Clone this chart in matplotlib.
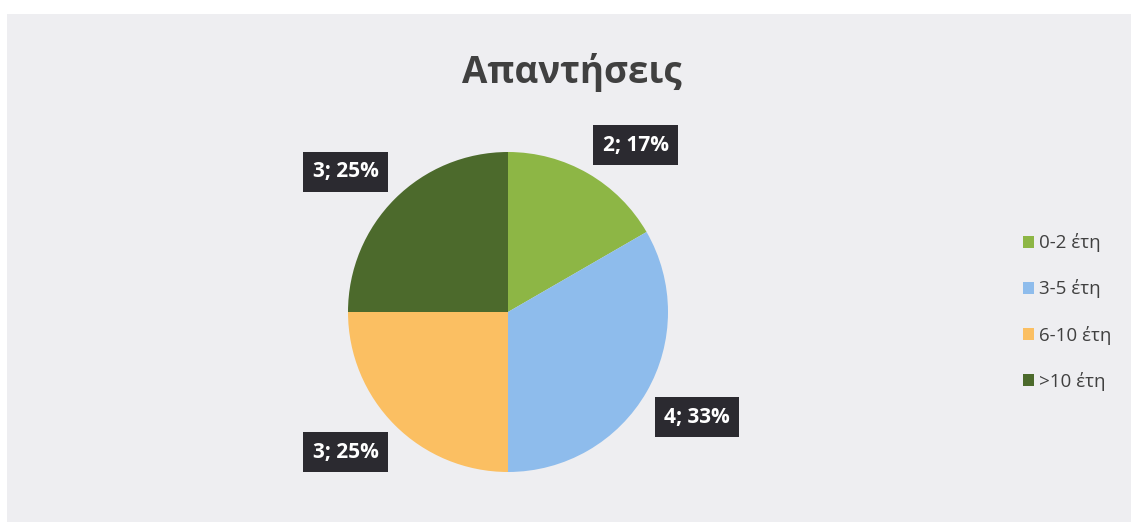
import numpy as np
import matplotlib.pyplot as plt
from matplotlib.patches import Rectangle

plt.rcParams['font.family'] = ['Open Sans', 'DejaVu Sans']

# data
categories = ['0-2 έτη', '3-5 έτη', '6-10 έτη', '>10 έτη']
values = [2, 4, 3, 3]
colors = ['#8db645', '#8ebcec', '#fbbf62', '#4c6a2c']
title = 'Απαντήσεις'

fig = plt.figure(figsize=(11.31, 5.22), dpi=100)
fig.patch.set_facecolor('white')
# scanned chart area background
fig.patches.append(Rectangle((0.006, 0), 0.994, (522 - 14) / 522,
                             transform=fig.transFigure, facecolor='#eeeef1',
                             edgecolor='none', zorder=-10))

ax = fig.add_axes([348 / 1131, 50 / 522, 320 / 1131, 320 / 522])
ax.set_facecolor('none')
wedges, _ = ax.pie(values, colors=colors, startangle=90, counterclock=False,
                   wedgeprops=dict(edgecolor='none'), radius=1.0)
ax.set_xlim(-1, 1)
ax.set_ylim(-1, 1)
ax.set_aspect('equal')
ax.axis('off')

# data labels outside end, like the original
total = sum(values)
fs = 15
pad = 0.45
for w, v in zip(wedges, values):
    mid = np.deg2rad((w.theta1 + w.theta2) / 2)
    x, y = 1.05 * np.cos(mid), 1.05 * np.sin(mid)
    ha = 'left' if np.cos(mid) > 0 else 'right'
    va = 'bottom' if np.sin(mid) > 0 else 'top'
    off = pad * fs + 1
    dx = off if ha == 'left' else -off
    dy = off if va == 'bottom' else -off
    ax.annotate(f'{v}; {round(v / total * 100)}%', xy=(x, y),
                xytext=(dx, dy), textcoords='offset points',
                ha=ha, va=va, fontsize=fs, fontweight='bold', color='white',
                bbox=dict(boxstyle=f'square,pad={pad}', facecolor='#2b2a30',
                          edgecolor='none'),
                annotation_clip=False)

fig.text(572 / 1131, 1 - 72 / 522, title, ha='center', va='center',
         fontsize=26.5, fontweight='bold', color='#404040')

fig.legend(wedges, categories, loc='center left',
           bbox_to_anchor=(1006 / 1131, 1 - 312 / 522), frameon=False,
           fontsize=13.5, labelcolor='#404040', handlelength=0.6,
           handleheight=0.6, handletextpad=0.25, labelspacing=1.45)

fig.savefig('out.png', dpi=100)
